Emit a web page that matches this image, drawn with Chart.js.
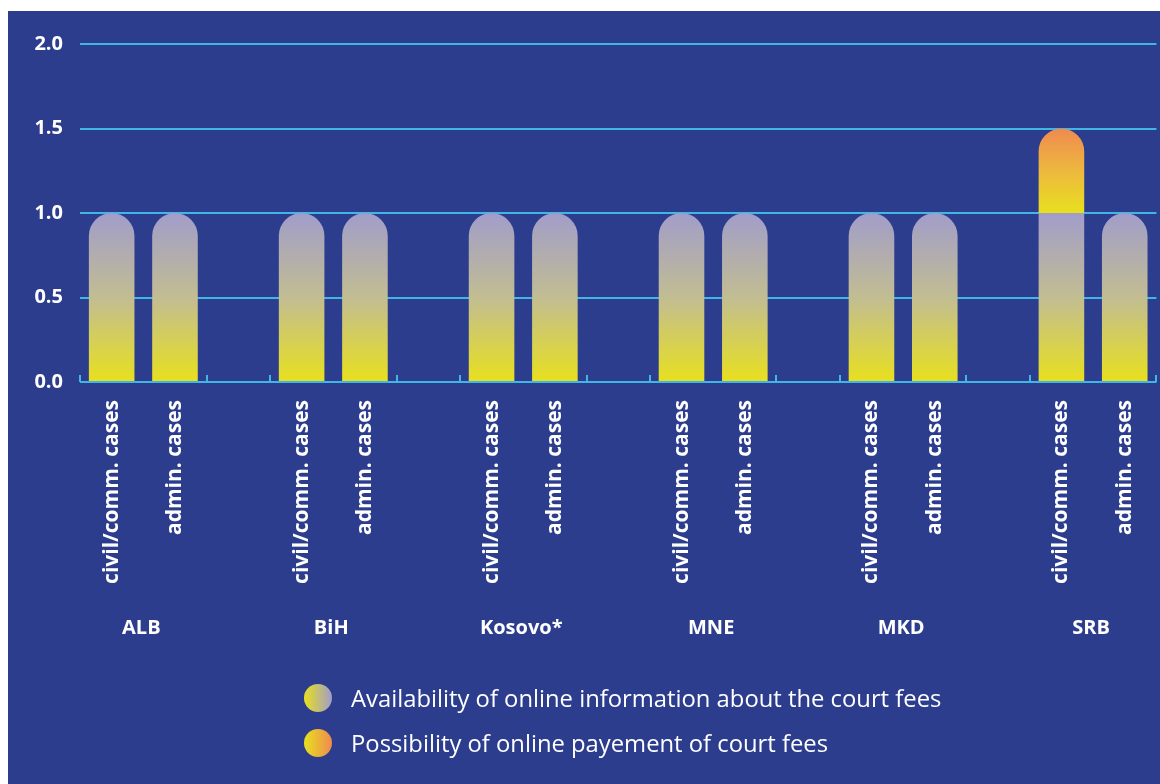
<!DOCTYPE html>
<html>
<head>
    <title>Court fees online</title>
    <style>
        body {
            margin: 0;
            padding: 0;
            background-color: #fff;
            font-family: "Open Sans", Arial, sans-serif;
        }

        .panel {
            position: absolute;
            left: 8px;
            top: 11px;
            width: 1152px;
            height: 773px;
            background-color: #2d3d8e;
        }

        .chart-wrapper {
            position: absolute;
            left: 0;
            top: 0;
            width: 1152px;
            height: 773px;
        }

        .legend {
            position: absolute;
            left: 296px;
            top: 664px;
            color: #fff;
            font-size: 23.8px;
        }

        .legend-item {
            display: flex;
            align-items: center;
            height: 45px;
        }

        .dot {
            width: 28px;
            height: 28px;
            border-radius: 50%;
            margin-right: 19px;
        }
    </style>
</head>
<body>
<div class="panel">
    <div class="chart-wrapper">
        <canvas id="feesChart"></canvas>
    </div>
    <div class="legend" id="legend"></div>
</div>

<script src="https://cdn.jsdelivr.net/npm/chart.js@4.4.1/dist/chart.umd.min.js"></script>
<script>
    // categories: two case types per country, blank slot between countries
    const countries = ['ALB', 'BiH', 'Kosovo*', 'MNE', 'MKD', 'SRB'];
    const categories = [
        'civil/comm. cases', 'admin. cases', '',
        'civil/comm. cases', 'admin. cases', '',
        'civil/comm. cases', 'admin. cases', '',
        'civil/comm. cases', 'admin. cases', '',
        'civil/comm. cases', 'admin. cases', '',
        'civil/comm. cases', 'admin. cases'
    ];
    const availability = [1, 1, null, 1, 1, null, 1, 1, null, 1, 1, null, 1, 1, null, 1, 1];
    const payment = [0, 0, null, 0, 0, null, 0, 0, null, 0, 0, null, 0, 0, null, 0.5, 0];
    const yTicks = [0, 0.5, 1.0, 1.5, 2.0];

    const seriesNames = [
        'Availability of online information about the court fees',
        'Possibility of online payement of court fees'
    ];
    const lineColor = '#3fb6e4';
    const yellow = '#e8e01e';
    const lavender = '#a19dca';
    const orange = '#ef8a50';

    function barGradient(context, top, mid) {
        const chart = context.chart;
        if (!chart.chartArea) return top;
        const y = chart.scales.y;
        const i = context.dataIndex;
        const start = context.datasetIndex === 0 ? 0 : (availability[i] || 0);
        const value = context.datasetIndex === 0 ? availability[i] : payment[i];
        const y0 = y.getPixelForValue(start);
        const y1 = y.getPixelForValue(start + (value || 0));
        if (y0 === y1) return top;
        const g = chart.ctx.createLinearGradient(0, y1, 0, y0);
        g.addColorStop(0, top);
        g.addColorStop(0.5, mid);
        g.addColorStop(1, yellow);
        return g;
    }

    function topRadius(isTop) {
        return isTop ? {topLeft: 40, topRight: 40, bottomLeft: 0, bottomRight: 0} : 0;
    }

    // ticks pointing up at country boundaries + country names under the labels
    const groupPlugin = {
        id: 'groups',
        afterDraw(chart) {
            const ctx = chart.ctx;
            const x = chart.scales.x;
            const bottom = chart.chartArea.bottom;
            const slot = x.width / categories.length;
            ctx.save();
            ctx.strokeStyle = lineColor;
            ctx.lineWidth = 2;
            for (let i = 0; i <= categories.length; i++) {
                if (i % 3 === 1) continue;
                const px = Math.round(x.left + i * slot);
                ctx.beginPath();
                ctx.moveTo(px, bottom);
                ctx.lineTo(px, bottom - 7);
                ctx.stroke();
            }
            ctx.fillStyle = '#fff';
            ctx.font = 'bold 20px "Open Sans", Arial, sans-serif';
            ctx.textAlign = 'center';
            ctx.textBaseline = 'middle';
            countries.forEach((name, g) => {
                const cx = (x.getPixelForValue(g * 3) + x.getPixelForValue(g * 3 + 1)) / 2;
                ctx.fillText(name, cx - 2, bottom + 246);
            });
            ctx.restore();
        }
    };

    new Chart(document.getElementById('feesChart'), {
        type: 'bar',
        data: {
            labels: categories,
            datasets: [{
                label: seriesNames[0],
                data: availability,
                backgroundColor: c => barGradient(c, lavender, '#c2bd92'),
                borderRadius: c => topRadius(!payment[c.dataIndex]),
                borderSkipped: 'start'
            }, {
                label: seriesNames[1],
                data: payment,
                backgroundColor: c => barGradient(c, orange, '#edb83e'),
                borderRadius: c => topRadius(true),
                borderSkipped: 'start'
            }]
        },
        options: {
            responsive: true,
            maintainAspectRatio: false,
            animation: false,
            categoryPercentage: 0.8,
            barPercentage: 0.9,
            layout: {padding: {top: 33, right: 2, left: 0, bottom: 0}},
            plugins: {
                legend: {display: false},
                tooltip: {enabled: false}
            },
            scales: {
                x: {
                    stacked: true,
                    grid: {display: false},
                    border: {display: false},
                    ticks: {
                        color: '#fff',
                        font: {family: '"Open Sans", Arial, sans-serif', size: 21, weight: 'bold'},
                        minRotation: 90,
                        maxRotation: 90,
                        autoSkip: false,
                        padding: 10
                    },
                    afterFit: s => { s.height = 402; }
                },
                y: {
                    stacked: true,
                    min: 0,
                    max: 2,
                    afterBuildTicks: s => { s.ticks = yTicks.map(v => ({value: v})); },
                    grid: {color: lineColor, lineWidth: 2, drawTicks: false},
                    border: {display: false},
                    ticks: {
                        color: '#fff',
                        font: {family: '"Open Sans", Arial, sans-serif', size: 20, weight: 'bold'},
                        padding: 17,
                        callback: v => Number(v).toFixed(1)
                    },
                    afterFit: s => { s.width = 72; }
                }
            }
        },
        plugins: [groupPlugin]
    });

    const legendFills = [
        `linear-gradient(to right, ${yellow}, ${lavender})`,
        `linear-gradient(to right, ${yellow}, ${orange})`
    ];
    const legend = document.getElementById('legend');
    seriesNames.forEach((name, i) => {
        const item = document.createElement('div');
        item.className = 'legend-item';
        const dot = document.createElement('span');
        dot.className = 'dot';
        dot.style.background = legendFills[i];
        const text = document.createElement('span');
        text.textContent = name;
        item.appendChild(dot);
        item.appendChild(text);
        legend.appendChild(item);
    });
</script>
</body>
</html>
